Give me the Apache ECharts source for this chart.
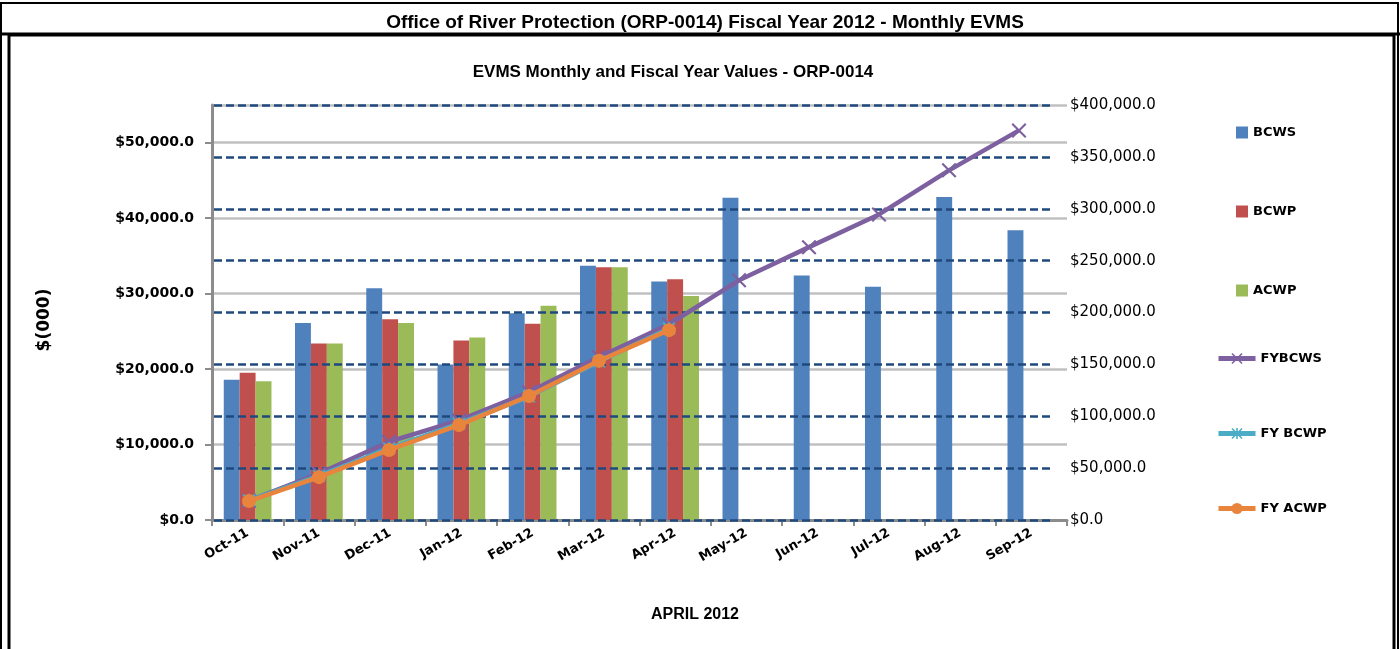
<!DOCTYPE html>
<html>
<head>
<meta charset="utf-8">
<script src="https://cdn.jsdelivr.net/npm/echarts@6/dist/echarts.min.js"></script>
<style>
html,body{margin:0;padding:0;background:#fff;}
#chart{width:1400px;height:649px;}
</style>
</head>
<body>
<div id="chart"></div>
<script>
const categories = ['Oct-11','Nov-11','Dec-11','Jan-12','Feb-12','Mar-12','Apr-12','May-12','Jun-12','Jul-12','Aug-12','Sep-12'];
const bcws = [18600, 26100, 30700, 20600, 27400, 33700, 31600, 42700, 32400, 30900, 42800, 38400];
const bcwp = [19500, 23400, 26600, 23800, 26000, 33500, 31900, null, null, null, null, null];
const acwp = [18400, 23400, 26100, 24200, 28400, 33500, 29700, null, null, null, null, null];
const fyBcws = [18600, 44700, 75400, 96000, 123400, 157100, 188700, 231000, 263000, 294500, 337000, 375500];
const fyBcwp = [19000, 42500, 69000, 92800, 119000, 152800, 184500, null, null, null, null, null];
const fyAcwp = [18200, 41300, 67500, 91500, 119500, 153500, 183000, null, null, null, null, null];
const leftTicks = [0, 10000, 20000, 30000, 40000, 50000];
const rightTicks = [0, 50000, 100000, 150000, 200000, 250000, 300000, 350000, 400000];

function money(v) {
  return '$' + String(v).replace(/\B(?=(\d{3})+(?!\d))/g, ',') + '.0';
}

const X_PATH = 'path://M0,1L1,0L5,4L9,0L10,1L6,5L10,9L9,10L5,6L1,10L0,9L4,5Z';
const AST_PATH = 'path://M0,1L1,0L5,4L9,0L10,1L6,5L10,9L9,10L5,6L1,10L0,9L4,5Z M4.3,0H5.7V10H4.3Z';

const chart = echarts.init(document.getElementById('chart'));
const option = {
  animation: false,
  backgroundColor: '#fff',
  title: [
    { text: 'Office of River Protection (ORP-0014) Fiscal Year 2012 - Monthly EVMS', left: 700, top: 8, textAlign: 'center',
      textStyle: { fontFamily: 'Liberation Sans', fontWeight: 'bold', fontSize: 19, color: '#000' } },
    { text: 'EVMS Monthly and Fiscal Year Values - ORP-0014', left: 668, top: 59, textAlign: 'center',
      textStyle: { fontFamily: 'Liberation Sans', fontWeight: 'bold', fontSize: 17, color: '#000' } },
    { text: 'APRIL 2012', left: 690, top: 602, textAlign: 'center',
      textStyle: { fontFamily: 'Liberation Sans', fontWeight: 'bold', fontSize: 16, color: '#000' } }
  ],
  graphic: [
    { type: 'rect', shape: { x: 1, y: 3, width: 1397, height: 660 }, style: { fill: 'none', stroke: '#000', lineWidth: 2 }, silent: true },
    { type: 'line', shape: { x1: 0, y1: 34, x2: 1400, y2: 34 }, style: { stroke: '#000', lineWidth: 3 }, silent: true },
    { type: 'rect', shape: { x: 9, y: 35, width: 1385, height: 630 }, style: { fill: 'none', stroke: '#000', lineWidth: 3 }, silent: true },
    { type: 'text', x: 45, y: 320, rotation: Math.PI / 2,
      style: { text: '$(000)', fontFamily: 'DejaVu Sans', fontWeight: 'bold', fontSize: 17, fill: '#000', align: 'center', verticalAlign: 'middle' } }
  ],
  legend: [
    { data: ['BCWS', 'BCWP', 'ACWP'], orient: 'vertical', left: 1231, top: 121, itemWidth: 12, itemHeight: 12, itemGap: 66, icon: 'rect',
      textStyle: { fontFamily: 'DejaVu Sans', fontWeight: 'bold', fontSize: 13, color: '#000' } },
    { data: ['FYBCWS', 'FY BCWP', 'FY ACWP'], orient: 'vertical', left: 1211, top: 347, itemWidth: 37, itemHeight: 14, itemGap: 62,
      lineStyle: { width: 5 },
      textStyle: { fontFamily: 'DejaVu Sans', fontWeight: 'bold', fontSize: 13, color: '#000' } }
  ],
  grid: [
    { left: 212, right: 333, top: 105, bottom: 129 },
    { left: 214, right: 346, top: 105, bottom: 129 }
  ],
  xAxis: [
    { type: 'category', gridIndex: 0, data: categories, boundaryGap: true,
      axisLine: { lineStyle: { color: '#8c8c8c', width: 3 } },
      axisTick: { show: true, length: 6, lineStyle: { color: '#8c8c8c', width: 2 } },
      axisLabel: { rotate: 30, margin: 12, fontFamily: 'DejaVu Sans', fontWeight: 'bold', fontSize: 13, color: '#000' } },
    { type: 'category', gridIndex: 1, data: categories, boundaryGap: true, show: false }
  ],
  yAxis: [
    { type: 'value', gridIndex: 0, min: 0, max: 55000, interval: 10000,
      axisLine: { show: true, lineStyle: { color: '#8c8c8c', width: 3 } },
      axisTick: { show: true, length: 7, lineStyle: { color: '#8c8c8c', width: 2 } },
      axisLabel: { showMaxLabel: false, margin: 18, fontFamily: 'DejaVu Sans', fontWeight: 'bold', fontSize: 14, color: '#000',
        formatter: v => leftTicks.includes(v) ? money(v) : '' },
      splitLine: { show: true, lineStyle: { color: '#c0c0c0', width: 2.5 } } },
    { type: 'value', gridIndex: 1, position: 'right', min: 0, max: 400000, interval: 50000, z: 3,
      axisLine: { show: false }, axisTick: { show: false },
      axisLabel: { margin: 16, fontFamily: 'DejaVu Sans', fontSize: 15, color: '#000',
        formatter: v => rightTicks.includes(v) ? money(v) : '' },
      splitLine: { show: true, lineStyle: { color: '#1F497D', width: 2.5, type: [8, 4] } } }
  ],
  series: [
    { name: 'BCWS', type: 'bar', xAxisIndex: 0, yAxisIndex: 0, data: bcws, barGap: '0%', barCategoryGap: '33%',
      itemStyle: { color: '#4F81BD' } },
    { name: 'BCWP', type: 'bar', xAxisIndex: 0, yAxisIndex: 0, data: bcwp, barGap: '0%', barCategoryGap: '33%',
      itemStyle: { color: '#C0504D' } },
    { name: 'ACWP', type: 'bar', xAxisIndex: 0, yAxisIndex: 0, data: acwp, barGap: '0%', barCategoryGap: '33%',
      itemStyle: { color: '#9BBB59' } },
    { name: 'FYBCWS', type: 'line', xAxisIndex: 1, yAxisIndex: 1, data: fyBcws, z: 5,
      symbol: X_PATH, symbolSize: 15, showAllSymbol: true,
      lineStyle: { color: '#7D60A0', width: 4.5 }, itemStyle: { color: '#7D60A0' } },
    { name: 'FY BCWP', type: 'line', xAxisIndex: 1, yAxisIndex: 1, data: fyBcwp, z: 6,
      symbol: AST_PATH, symbolSize: 13, showAllSymbol: true,
      lineStyle: { color: '#4BACC6', width: 4.5 }, itemStyle: { color: '#4BACC6' } },
    { name: 'FY ACWP', type: 'line', xAxisIndex: 1, yAxisIndex: 1, data: fyAcwp, z: 7,
      symbol: 'circle', symbolSize: 14, showAllSymbol: true,
      lineStyle: { color: '#E8843C', width: 4.5 }, itemStyle: { color: '#E8843C' } }
  ]
};
chart.setOption(option);
</script>
</body>
</html>
